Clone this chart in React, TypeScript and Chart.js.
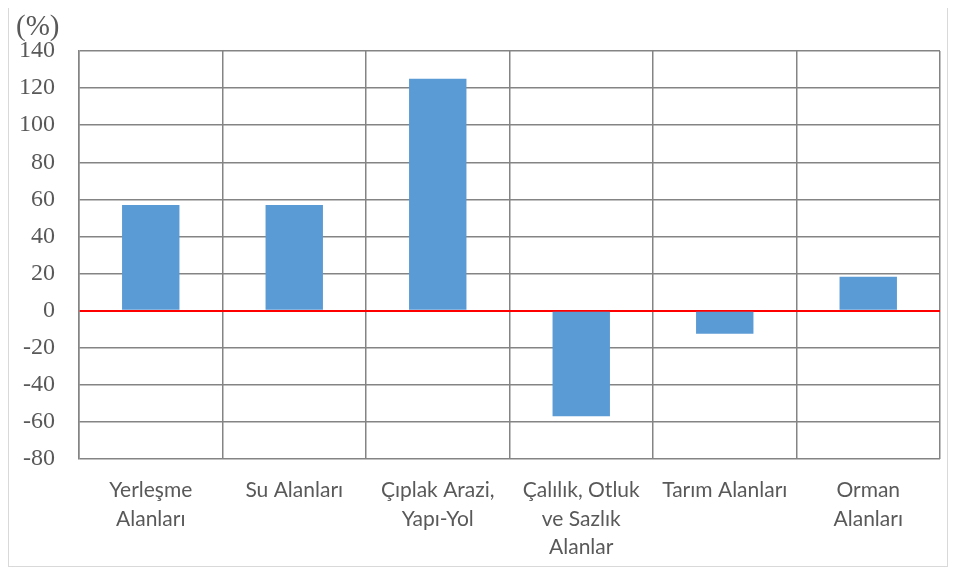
import React, { useEffect, useRef } from "react";
import { Chart, registerables } from "chart.js";

Chart.register(...registerables);

const categories: (string | string[])[] = [
  ["Yerleşme", "Alanları"],
  "Su Alanları",
  ["Çıplak Arazi,", "Yapı-Yol"],
  ["Çalılık, Otluk", "ve Sazlık", "Alanlar"],
  "Tarım Alanları",
  ["Orman", "Alanları"],
];
const changeValues = [57, 57, 125, -57, -12.4, 18.3];
const yMin = -80;
const yMax = 140;
const yStep = 20;
const unitLabel = "(%)";

const unitPlugin = {
  id: "unitLabel",
  afterDraw(chart: any) {
    const ctx = chart.ctx;
    ctx.save();
    ctx.font = "29px 'Liberation Serif', 'Times New Roman', serif";
    ctx.fillStyle = "#595959";
    ctx.textAlign = "left";
    ctx.textBaseline = "alphabetic";
    ctx.fillText(unitLabel, 7, 31);
    ctx.restore();
  },
};

export default function App() {
  const ref = useRef<HTMLCanvasElement | null>(null);
  useEffect(() => {
    if (!ref.current) return;
    const chart = new Chart(ref.current, {
      type: "bar",
      data: {
        labels: categories,
        datasets: [
          {
            data: changeValues,
            backgroundColor: "#5b9bd5",
            borderWidth: 0,
            barPercentage: 0.4,
            categoryPercentage: 1,
          },
        ],
      },
      options: {
        animation: false,
        responsive: false,
        maintainAspectRatio: false,
        layout: { padding: { top: 47, right: 7, left: 0, bottom: 0 } },
        plugins: { legend: { display: false }, tooltip: { enabled: false } },
        scales: {
          x: {
            offset: true,
            grid: {
              offset: true,
              color: "#848484",
              lineWidth: 1.5,
              drawTicks: false,
            },
            border: { display: false },
            ticks: {
              color: "#595959",
              padding: 17,
              maxRotation: 0,
              autoSkip: false,
              font: {
                family: "Lato, 'Liberation Sans', sans-serif",
                size: 21,
                lineHeight: 1.36,
              },
            },
            afterFit(scale: any) {
              scale.height = 107;
            },
          },
          y: {
            min: yMin,
            max: yMax,
            grid: {
              color: (c: any) => (c.tick && c.tick.value === 0 ? "#ff0000" : "#848484"),
              lineWidth: (c: any) => (c.tick && c.tick.value === 0 ? 2 : 1.5),
              drawTicks: false,
            },
            border: { display: true, color: "#848484", width: 1.5 },
            ticks: {
              stepSize: yStep,
              color: "#595959",
              padding: 24,
              font: { family: "'Liberation Serif', 'Times New Roman', serif", size: 24 },
            },
            afterFit(scale: any) {
              scale.width = 70;
            },
          },
        },
      },
      plugins: [unitPlugin],
    });
    return () => chart.destroy();
  }, []);
  return (
    <div
      style={{
        marginTop: -5,
        width: 940,
        height: 564,
        border: "1px solid #d9d9d9",
        boxSizing: "border-box",
        background: "#fff",
      }}
    >
      <canvas ref={ref} width={938} height={562} style={{ display: "block" }} />
    </div>
  );
}
